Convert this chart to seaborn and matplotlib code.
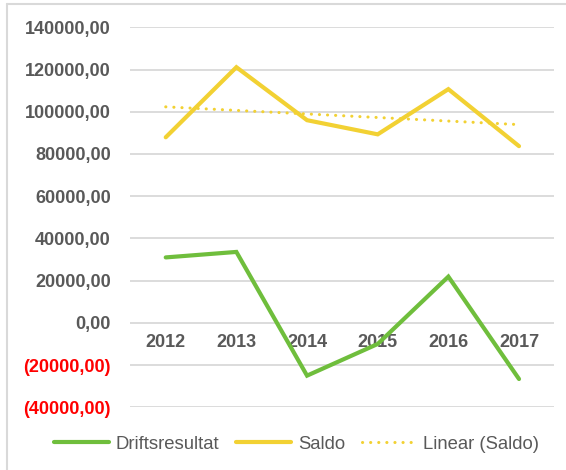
import matplotlib
matplotlib.use("Agg")
import matplotlib.pyplot as plt
import seaborn as sns
import numpy as np
import pandas as pd
from matplotlib.ticker import FuncFormatter, FixedLocator
from matplotlib.lines import Line2D

years = [2012, 2013, 2014, 2015, 2016, 2017]
driftsresultat = [31000, 33600, -25000, -10000, 21900, -26600]
saldo = [87900, 121100, 96000, 89300, 110700, 83700]
y_ticks = [-40000, -20000, 0, 20000, 40000, 60000, 80000, 100000, 120000, 140000]

GREEN = "#6FBE3C"
YELLOW = "#F2D133"
GRID = "#D9D9D9"
TEXT = "#595959"
DOTS = (0, (0.05, 2.6))

sns.set_theme(style="white")
plt.rcParams['font.family'] = ['Liberation Sans', 'DejaVu Sans']

df = pd.DataFrame({"year": years, "Driftsresultat": driftsresultat, "Saldo": saldo})

fig = plt.figure(figsize=(5.66, 4.70), dpi=100)
ax = fig.add_axes([0.2304, 0.1334, 0.749, 0.8085])

for y in y_ticks:
    ax.axhline(y, color=GRID, lw=1.3, zorder=0)

sns.lineplot(data=df, x="year", y="Driftsresultat", ax=ax, color=GREEN, lw=3.0,
             solid_capstyle="round", solid_joinstyle="miter", label="Driftsresultat", legend=False)
sns.lineplot(data=df, x="year", y="Saldo", ax=ax, color=YELLOW, lw=3.0,
             solid_capstyle="round", solid_joinstyle="miter", label="Saldo", legend=False)
sns.regplot(data=df, x="year", y="Saldo", ax=ax, scatter=False, ci=None, truncate=True,
            line_kws=dict(color=YELLOW, lw=2.2, linestyle=DOTS,
                          dash_capstyle="round", label="Linear (Saldo)"))

ax.set_xlim(2011.5, 2017.5)
ax.set_ylim(-40000, 140000)
ax.yaxis.set_major_locator(FixedLocator(y_ticks))
ax.set_xticks(years)
ax.set_xticklabels([str(y) for y in years])

def fmt(v, pos):
    if v < 0:
        return "({:.2f})".format(-v).replace(".", ",")
    return "{:.2f}".format(v).replace(".", ",")

ax.yaxis.set_major_formatter(FuncFormatter(fmt))
for lab, v in zip(ax.get_yticklabels(), y_ticks):
    lab.set_color("#FF0000" if v < 0 else TEXT)
    lab.set_fontweight("bold")
    lab.set_fontsize(13)
ax.tick_params(axis="y", length=0, pad=14)

ax.spines['bottom'].set_position(('data', 0))
for s in ax.spines.values():
    s.set_visible(False)
ax.tick_params(axis="x", length=0, pad=8, labelsize=13, labelcolor=TEXT)
for lab in ax.get_xticklabels():
    lab.set_fontweight("bold")
ax.set_xlabel("")
ax.set_ylabel("")

handles = [
    Line2D([], [], color=GREEN, lw=3.0, solid_capstyle="round"),
    Line2D([], [], color=YELLOW, lw=3.0, solid_capstyle="round"),
    Line2D([], [], color=YELLOW, lw=2.2, linestyle=DOTS, dash_capstyle="round"),
]
leg = fig.legend(handles, ["Driftsresultat", "Saldo", "Linear (Saldo)"], loc="center",
                 bbox_to_anchor=(0.524, 0.0553), ncol=3, frameon=False, fontsize=13.3,
                 handlelength=3.0, handletextpad=0.35, columnspacing=0.9, labelcolor=TEXT)

fig.add_artist(Line2D([7/566, 7/566], [0, 1 - 4.3/470], transform=fig.transFigure, color=GRID, lw=1.5))
fig.add_artist(Line2D([7/566, 1], [1 - 4.3/470, 1 - 4.3/470], transform=fig.transFigure, color=GRID, lw=1.5))

fig.savefig("out.png", dpi=100, facecolor="white")
